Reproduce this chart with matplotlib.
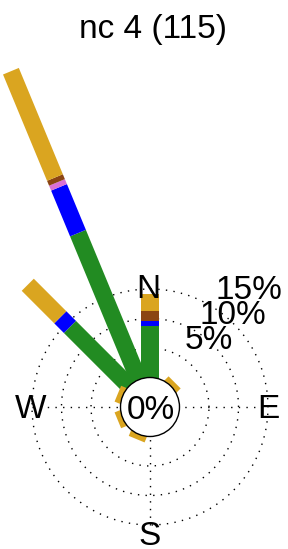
import numpy as np
import matplotlib
matplotlib.use('Agg')
import matplotlib.pyplot as plt
from matplotlib.patches import Polygon, Circle

plt.rcParams['font.family'] = ['Liberation Sans', 'DejaVu Sans']

# wind directions (degrees from north, clockwise) and frequency (%) per speed bin
directions = [0, 337.5, 315, 292.5, 247.5, 202.5, 45]
green = [8.8, 26.9, 14.2, 0, 0, 0, 0]
blue = [0.8, 8.4, 2.3, 0, 0, 0, 0]
pink = [0, 0.9, 0, 0, 0, 0, 0]
brown = [1.6, 0.9, 0, 0, 0, 0, 0]
gold = [3.0, 19.5, 7.8, 0.9, 0.9, 0.9, 0.9]
bin_colors = ['#228B22', '#0000FF', '#DA70D6', '#8B4513', '#DAA520']

ring_pcts = [5, 10, 15]
title = 'nc 4 (115)'

r0 = 5.0        # radius of the 0% circle
bar_w = 2.9     # bar width in the same units
px = 5.9        # pixels per unit
cx, cy = 150, 407

fig = plt.figure(figsize=(2.88, 5.49), dpi=100)
ax = fig.add_axes([0, 0, 1, 1])
ax.set_xlim(-cx / px, (288 - cx) / px)
ax.set_ylim(-(549 - cy) / px, cy / px)
ax.set_aspect('equal')
ax.axis('off')

# dotted grid
dot = dict(color='black', lw=1.0, ls=(0, (1, 4.5)), zorder=1)
t = np.linspace(0, 2 * np.pi, 400)
for p in ring_pcts:
    r = r0 + p
    ax.plot(r * np.cos(t), r * np.sin(t), **dot)
rmax = r0 + ring_pcts[-1]
ax.plot([-rmax, rmax], [0, 0], **dot)
ax.plot([0, 0], [-rmax, rmax], **dot)

# stacked bars
bins = [green, blue, pink, brown, gold]
for i, d in enumerate(directions):
    th = np.deg2rad(d)
    u = np.array([np.sin(th), np.cos(th)])
    v = np.array([np.cos(th), -np.sin(th)])
    start = 0.0
    top = r0
    for vals, col in zip(bins, bin_colors):
        if vals[i] <= 0:
            continue
        top = top + vals[i]
        corners = [start * u - bar_w / 2 * v, top * u - bar_w / 2 * v,
                   top * u + bar_w / 2 * v, start * u + bar_w / 2 * v]
        ax.add_patch(Polygon(corners, closed=True, facecolor=col,
                             edgecolor='none', zorder=2))
        start = top

# centre circle
ax.add_patch(Circle((0, 0), r0, facecolor='white', edgecolor='black',
                    lw=1.0, zorder=3))
fs = 24
ax.text(0.2, -0.6, '0%', fontsize=fs, ha='center', va='center', zorder=4)

# ring labels
for p in ring_pcts:
    r = r0 + p + 1.4
    ang = np.deg2rad(31)
    ax.text(r * np.sin(ang), r * np.cos(ang), f'{p}%', fontsize=fs,
            ha='left', va='baseline', zorder=4)

# compass labels
ax.text(-0.3, 18.4, 'N', fontsize=fs, ha='center', va='baseline', zorder=4)
ax.text(18.2, -0.5, 'E', fontsize=fs, ha='left', va='center', zorder=4)
ax.text(-17.6, -0.5, 'W', fontsize=fs, ha='right', va='center', zorder=4)
ax.text(0, -19.3, 'S', fontsize=fs, ha='center', va='top', zorder=4)

fig.text(153 / 288, 1 - 38 / 549, title, fontsize=fs, ha='center',
         va='baseline')

fig.savefig('out.png', dpi=100)
